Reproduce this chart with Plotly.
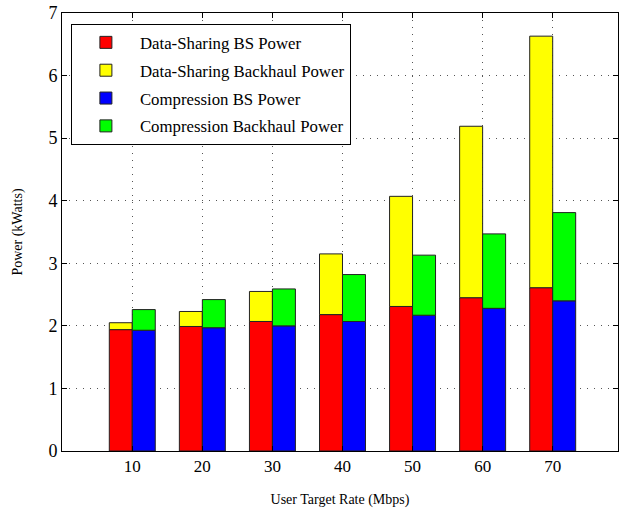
import plotly.graph_objects as go

rates = [10, 20, 30, 40, 50, 60, 70]
ds_bs = [1.94, 1.99, 2.07, 2.18, 2.31, 2.45, 2.61]
ds_backhaul = [0.11, 0.24, 0.48, 0.97, 1.76, 2.74, 4.02]
cp_bs = [1.93, 1.97, 2.00, 2.07, 2.17, 2.28, 2.40]
cp_backhaul = [0.33, 0.45, 0.59, 0.75, 0.96, 1.19, 1.41]
y_ticks = [0, 1, 2, 3, 4, 5, 6, 7]

BW = 3.28
line = dict(color="#222222", width=1)
fig = go.Figure()
fig.add_trace(go.Bar(x=rates, y=ds_bs, base=0, width=BW, offset=-BW, legendgroup="a",
                     marker=dict(color="#ff0000", line=line), name="Data-Sharing BS Power"))
fig.add_trace(go.Bar(x=rates, y=ds_backhaul, base=ds_bs, width=BW, offset=-BW, legendgroup="b",
                     marker=dict(color="#ffff00", line=line), name="Data-Sharing Backhaul Power"))
fig.add_trace(go.Bar(x=rates, y=cp_bs, base=0, width=BW, offset=0, legendgroup="c",
                     marker=dict(color="#0000ff", line=line), name="Compression BS Power"))
fig.add_trace(go.Bar(x=rates, y=cp_backhaul, base=cp_bs, width=BW, offset=0, legendgroup="d",
                     marker=dict(color="#00ff00", line=line), name="Compression Backhaul Power"))

font = "Liberation Serif, Times New Roman, serif"
grid = dict(showgrid=True, gridcolor="#555555", griddash="1px,6px", gridwidth=1)
fig.update_layout(
    width=623, height=508,
    margin=dict(l=62, r=5, t=13, b=57),
    barmode="overlay",
    plot_bgcolor="white", paper_bgcolor="white",
    font=dict(family=font, color="black"),
    legend=dict(x=0.016, y=0.975, xanchor="left", yanchor="top",
                bordercolor="black", borderwidth=1, bgcolor="white",
                font=dict(size=16.8, family=font), tracegroupgap=3,
                itemwidth=58),
    xaxis=dict(range=[-0.03, 79.32], tickvals=rates, ticktext=[str(r) for r in rates],
               ticks="inside", ticklen=5, tickcolor="black", mirror="ticks",
               showline=True, linecolor="black", linewidth=1, automargin=False,
               zeroline=False, tickfont=dict(size=17), **grid,
               title=dict(text="User Target Rate (Mbps)", font=dict(size=14), standoff=20)),
    yaxis=dict(range=[0, 7], tickvals=y_ticks,
               ticks="inside", ticklen=5, tickcolor="black", mirror="ticks",
               showline=True, linecolor="black", linewidth=1, ticklabeloverflow="allow",
               automargin=False,
               zeroline=False, tickfont=dict(size=18), **grid,
               title=dict(text="Power (kWatts)", font=dict(size=14), standoff=22)),
)
fig.write_html("out.html", config={"displayModeBar": False},
               post_script="document.body.style.margin='0';")
